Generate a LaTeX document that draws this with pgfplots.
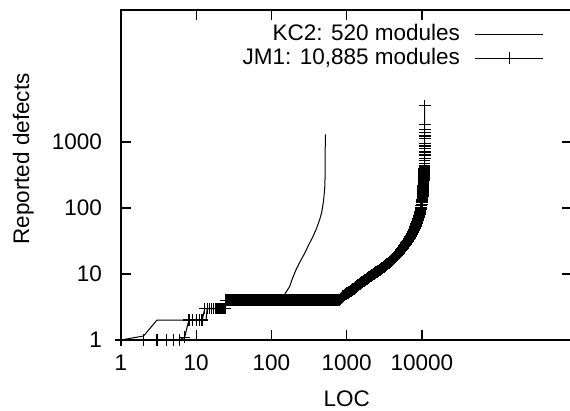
\documentclass[border=0pt]{standalone}
\usepackage{fontspec}
\setmainfont{Liberation Sans}
\usepackage{pgfplots}
\pgfplotsset{compat=1.18}
\begin{document}
\begin{tikzpicture}[font=\fontsize{11.25}{13.5}\selectfont]
\begin{loglogaxis}[
  scale only axis, width=225.65pt, height=165pt,
  xmin=1, xmax=1e6, ymin=1, ymax=1e5,
  axis line style={line width=0.8pt},
  every tick/.style={line width=0.7pt, black},
  major tick length=5pt,
  tick align=inside, tick pos=both,
  xtick={1,10,100,1000,10000}, xticklabels={1,10,100,1000,10000},
  ytick={1,10,100,1000}, yticklabels={1,10,100,1000},
  xminorticks=false, yminorticks=false,
  xticklabel style={yshift=-3.8pt},
  yticklabel style={xshift=-6pt},
  xlabel={LOC}, ylabel={Reported defects},
  xlabel style={at={(axis description cs:0.5,-0.177)},anchor=center},
  ylabel style={at={(axis description cs:-0.2165,0.5485)},anchor=center},
  legend plot pos=right, legend cell align=right,
  legend style={draw=none, fill=none, at={(0.9373,0.963)}, anchor=north east,
    inner sep=0pt, outer sep=0pt,
    nodes={text height=8.2pt, text depth=2.3pt, inner ysep=0.75pt, inner xsep=0pt},
    column sep=7.5pt, row sep=0pt},
  legend image code/.code={\draw[mark repeat=2,mark phase=2,#1] plot coordinates {(0pt,0pt) (17pt,0pt) (34pt,0pt)};},
]
\addplot[black, line width=0.5pt, mark=none] coordinates {
(1,1) (2,1.15) (3,2) (13.5,2) (14,3) (24,3) (25,4) (150,4) (151,5) (160,5.5)
(175,6.5) (190,8.5) (215,12) (245,16) (276,20.5) (310,27) (357,37) (400,50)
(437,66) (465,85) (488,118) (500,150) (512,210) (516,280) (518,380) (519,600) (520,1300)
};
\addlegendentry{KC2: 520 modules}
\addplot[black, line width=0.55pt, mark=+, mark size=2.95pt, mark options={line width=0.7pt}] coordinates {
(1,1) (2,1) (3,1) (4,1) (5,1) (6,1) (7,1.1) (8,2) (9,2) (10,2) (11,2) (12,2)
(13,3) (14,3) (15,3) (16,3) (17,3) (18,3) (19,3) (20,3) (21,3) (22,3) (23,3) (24,3)
(25,4) (26,4) (27,4) (28,4) (29,4) (30,4) (31,4) (32,4) (33,4) (34,4) (35,4) (36,4) (37,4)
(38,4) (39,4) (40,4) (41,4) (42,4) (43,4) (44,4) (45,4) (46,4) (47,4) (48,4) (49,4) (50,4)
(52,4) (54,4) (56,4) (58,4) (60,4) (62,4) (64,4) (66,4) (68,4) (70,4) (72,4) (74,4) (76,4)
(78,4) (80,4) (82,4) (84,4) (86,4) (88,4) (90,4) (92,4) (94,4) (96,4) (98,4) (100,4)
(104,4) (108,4) (112,4) (116,4) (120,4) (124,4) (128,4) (132,4) (136,4) (140,4) (144,4)
(148,4) (152,4) (156,4) (160,4) (164,4) (168,4) (172,4) (176,4) (180,4) (184,4) (188,4)
(192,4) (196,4) (200,4)
(208,4) (216,4) (224,4) (232,4) (240,4) (248,4) (256,4) (264,4) (272,4) (280,4) (288,4)
(296,4) (304,4) (312,4) (320,4) (328,4) (336,4) (344,4) (352,4) (360,4) (368,4) (376,4)
(384,4) (392,4) (400,4)
(416,4) (432,4) (448,4) (464,4) (480,4) (496,4) (512,4) (528,4) (544,4) (560,4) (576,4)
(592,4) (608,4) (624,4) (640,4) (656,4) (672,4) (688,4) (704,4) (720,4) (736,4) (752,4)
(768,4) (784,4) (800,4)
(816,4.1) (832,4.2) (848,4.3) (864,4.4) (880,4.5) (896,4.65) (912,4.72) (928,4.8) (944,4.85)
(960,4.9) (976,4.98) (992,5.05) (1008,5.1) (1024,5.15) (1040,5.2) (1056,5.25) (1072,5.3)
(1088,5.35) (1104,5.42) (1120,5.5) (1136,5.55) (1152,5.6) (1168,5.68) (1184,5.75) (1200,5.8)
(1216,5.85) (1232,5.92) (1248,6.0) (1264,6.07) (1280,6.15) (1296,6.22) (1312,6.3) (1328,6.38)
(1344,6.45) (1360,6.52) (1376,6.6) (1392,6.68) (1408,6.75) (1424,6.8) (1440,6.85) (1456,6.92)
(1472,7.0) (1488,7.05) (1504,7.1) (1520,7.18) (1536,7.25) (1552,7.32) (1568,7.4) (1584,7.45)
(1600,7.5) (1632,7.62) (1664,7.73) (1696,7.85) (1728,7.97) (1760,8.09) (1792,8.21) (1824,8.33)
(1856,8.46) (1888,8.57) (1920,8.69) (1952,8.81) (1984,8.93)
(2016,9.05) (2048,9.17) (2080,9.28) (2112,9.39) (2144,9.5) (2176,9.6) (2208,9.72) (2240,9.83)
(2272,9.94) (2304,10.04) (2336,10.15) (2368,10.26) (2400,10.37) (2432,10.47) (2464,10.58)
(2496,10.68) (2528,10.79) (2560,10.9) (2592,11.0) (2624,11.1) (2656,11.2) (2688,11.3)
(2720,11.4) (2752,11.5) (2784,11.62) (2816,11.75) (2848,11.86) (2880,11.98) (2912,12.1)
(2944,12.22) (2976,12.35) (3008,12.47) (3040,12.58) (3072,12.7) (3104,12.82) (3136,12.93)
(3168,13.05) (3200,13.16) (3264,13.4) (3328,13.64) (3392,13.87) (3456,14.1) (3520,14.35)
(3584,14.6) (3648,14.8) (3712,15.0) (3776,15.25) (3840,15.5) (3904,15.7) (3968,15.9)
(4032,16.2) (4096,16.5) (4160,16.8) (4224,17.1) (4288,17.4) (4352,17.7) (4416,18.05)
(4480,18.4) (4544,18.7) (4608,19.0) (4672,19.3) (4736,19.6) (4800,19.95) (4864,20.3)
(4928,20.65) (4992,21.0) (5056,21.4) (5120,21.8) (5184,22.2) (5248,22.6) (5312,23.05)
(5376,23.5) (5440,23.95) (5504,24.4) (5568,24.8) (5632,25.2) (5696,25.65) (5760,26.1)
(5824,26.6) (5888,27.1) (5952,27.55) (6016,28.0) (6080,28.5) (6144,29.0) (6208,29.5)
(6272,30.0) (6336,30.5) (6400,31.0) (6464,31.45) (6528,31.9) (6592,32.45) (6656,33.0)
(6720,33.5) (6784,34.0) (6848,34.55) (6912,35.1) (6976,35.8) (7040,36.5) (7104,37.25)
(7168,38.0) (7232,38.7) (7296,39.4) (7360,40.15) (7424,40.9) (7488,41.7) (7552,42.5)
(7616,43.25) (7680,44.0) (7744,44.8) (7808,45.6) (7872,46.4) (7936,47.2) (8000,48.2)
(8064,49.2) (8128,50.5) (8192,51.8) (8256,53.1) (8320,54.4) (8384,55.7) (8448,57.1)
(8512,58.4) (8576,59.8) (8640,61.2) (8704,62.7) (8768,64.1) (8832,65.6) (8896,67.1)
(8960,68.6) (9024,70.2) (9088,71.8) (9152,73.7) (9216,75.6) (9280,78.0) (9344,80.4)
(9408,82.9) (9472,85.4) (9536,88.0) (9600,90.7) (9664,94.0) (9728,97.3) (9792,102)
(9856,108) (9920,114) (9984,120) (10048,126) (10112,133) (10176,142) (10240,151)
(10304,162) (10368,173) (10400,180) (10432,195) (10460,205) (10480,215) (10496,228)
(10520,240) (10540,250) (10560,262) (10580,275) (10600,288) (10620,300) (10640,312)
(10660,325) (10680,338) (10700,350) (10720,360) (10740,370) (10760,380) (10780,390)
(10800,400) (10815,408) (10830,416) (10845,425) (10856,440)
(10866,470) (10872,520) (10874,565) (10875,635) (10876,710)
(10877,800) (10878,870) (10879,955) (10880,1140) (10881,1230) (10882,1380) (10883,1550)
(10884,1850) (10885,3550)
};
\addlegendentry{JM1: 10,885 modules}
\end{loglogaxis}
\pgfresetboundingbox
\path[use as bounding box] (-60.5pt,-35.5pt) rectangle (224.5pt,170pt);
\end{tikzpicture}
\end{document}
